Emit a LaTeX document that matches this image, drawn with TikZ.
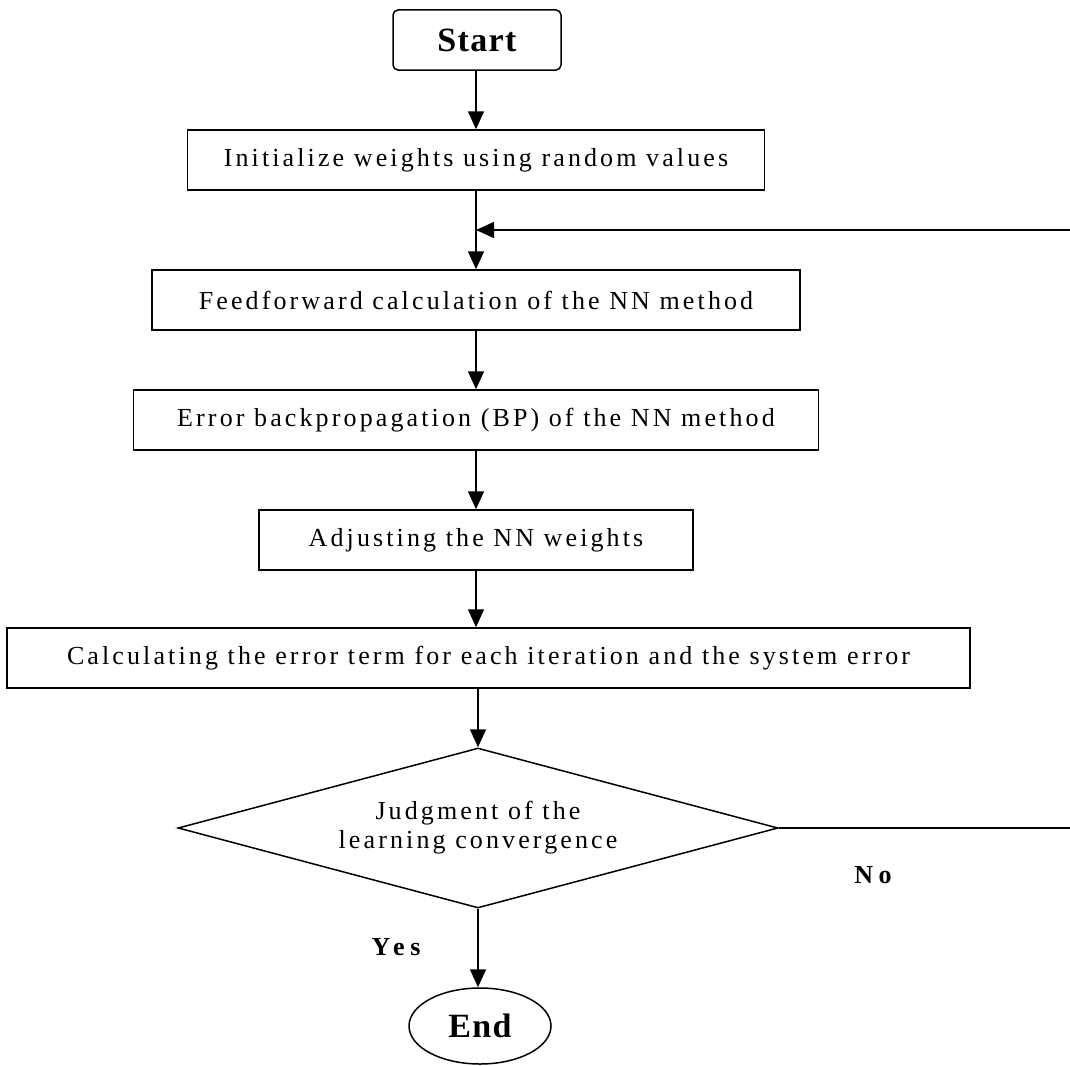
\documentclass[tikz,border=0pt]{standalone}
\usepackage{fontspec}
\setmainfont{Liberation Serif}
\newfontfamily\boxfont[LetterSpace=12]{Liberation Serif}
\newfontfamily\termfont[LetterSpace=4]{Liberation Serif}
\newfontfamily\branchfont[LetterSpace=22]{Liberation Serif}
\usetikzlibrary{shapes.geometric,arrows.meta,calc}

\begin{document}
\begin{tikzpicture}[x=1pt,y=-1pt,
  every node/.style={inner sep=0pt, line width=1.5pt},
  procbox/.style={draw, rectangle, minimum height=60pt,
    font=\boxfont\fontsize{26pt}{29pt}\selectfont},
  termbox/.style={draw, font=\termfont\bfseries\fontsize{34pt}{38pt}\selectfont},
  decision/.style={draw, diamond, aspect=3.75, minimum width=600pt,
    minimum height=160pt, align=center,
    font=\boxfont\fontsize{26pt}{29pt}\selectfont},
  branch/.style={font=\branchfont\bfseries\fontsize{26pt}{29pt}\selectfont},
  flow/.style={line width=1.5pt, -{Triangle[length=18pt,width=16pt]}}]

\useasboundingbox (0,0) rectangle (1070,1065);

% process steps
\node[termbox, rectangle, rounded corners=5pt, minimum width=168pt,
      minimum height=60pt] (start) at (477,40) {Start};
\node[procbox, minimum width=577pt] (init) at (476,160)
  {Initialize weights using random values};
\node[procbox, minimum width=648pt] (ff) at (476,300)
  {Feedforward calculation of the NN method};
\node[procbox, minimum width=685pt] (bp) at (476,420)
  {Error backpropagation (BP) of the NN method};
\node[procbox, minimum width=434pt] (adj) at (476,540)
  {Adjusting the NN weights};
\node[procbox, minimum width=963pt] (calc) at (488.5,658)
  {Calculating the error term for each iteration and the system error};
\node[decision] (judge) at (478,828)
  {Judgment of the\\learning convergence};
\node[termbox, ellipse, minimum width=142pt, minimum height=76pt] (end)
  at (480,1026) {End};

% branch labels
\node[branch] (yes) at (396,947) {Yes};
\node[branch] (no) at (873,875) {No};

% connectors
\coordinate (merge) at ($(init.south)!0.5!(ff.north)$);
\coordinate (turn) at (1071.5,0);

\draw[flow] (start.south -| init.north) -- (init.north);
\draw[flow] (init.south) -- (ff.north);
\draw[flow] (ff.south) -- (bp.north);
\draw[flow] (bp.south) -- (adj.north);
\draw[flow] (adj.south) -- (adj.south |- calc.north);
\draw[flow] (calc.south -| judge.north) -- (judge.north);
\draw[flow] (judge.south) -- (judge.south |- end.north);
\draw[flow] (judge.east) -- (judge.east -| turn) -- (merge -| turn) -- (merge);

\end{tikzpicture}
\end{document}
